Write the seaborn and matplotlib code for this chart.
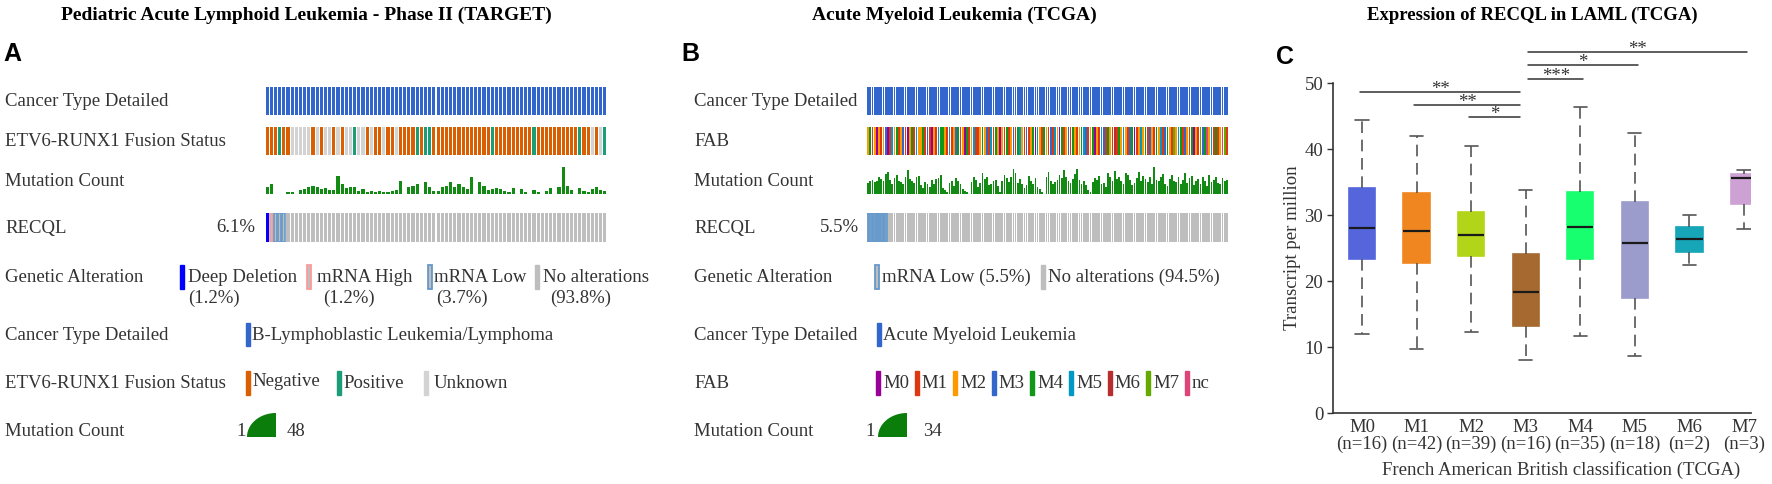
import numpy as np
import pandas as pd
import matplotlib
matplotlib.use("Agg")
import matplotlib.pyplot as plt
from matplotlib.patches import Rectangle, Polygon
import seaborn as sns

W, H = 1772, 484
nan = np.nan

# ---------------- Panel A: TARGET pediatric ALL oncoprint (82 samples) ----------------
fusion_A = list("NNNPNNUUUU" "UNUNUUNUNU" "UPUUNUNNUN" "NUNNNNPNPP" "NNNNNNNNNN"
                "NNNNPNNNNN" "NNNNPNNNNN" "NNNNNPNNUN" "UP")
mutation_A = [12, 17, nan, nan, nan, 3, 3, nan, 7, 9,
              12, 15, 13, 9, 11, 7, 8, 32, 18, 11,
              12, 13, 6, 9, 3, 6, 3, 5, 4, 3,
              6, 7, 24, nan, 12, 15, 17, nan, 21, 12,
              6, 5, 12, 15, 21, 13, 17, 12, 9, 30,
              nan, 21, 15, 7, 9, 11, 9, 5, 3, 11,
              nan, 9, 4, nan, 7, 3, nan, 6, 10, nan,
              12, 48, 14, 8, nan, 10, 6, 3, 9, 12,
              7, 5]
recql_A = ["DEL", "HIGH", "LOW", "LOW", "LOW"] + ["NONE"] * 77

# ---------------- Panel B: TCGA AML oncoprint (164 samples) ----------------
fab_B = list("2412021230" "1524123102" "4152241310" "2154421512" "3412041251"
             "1242315142" "0214123145" "2131240521" "4213152041" "2314212453"
             "1240215314" "2161425213" "4012524132" "1425134217" "2541321402"
             "1734n25141" "2n71")
mutation_B = [14, 16, 18, 15, 17, 22, 19, 16, 25, 28,
              18, 12, 20, 24, 17, 15, 13, 22, 30, 19,
              16, 14, 21, 23, 11, 7, 15, 12, 9, 18,
              13, 19, 20, 24, 8, 5, 3, 14, 17, 10,
              20, 16, 12, 6, 4, 2, nan, 15, 22, 18,
              9, 14, 27, 19, 21, 11, 13, 16, 18, 10,
              3, 17, 24, 20, 15, 22, 31, 26, 14, 19,
              12, 8, 11, 23, 16, 13, 20, 9, 6, 3,
              nan, 21, 28, 16, 12, 15, 18, 24, 20, 30,
              22, 17, 14, 19, 25, 32, 18, 13, 16, 11,
              5, 2, 15, 20, 18, 23, 12, 14, 9, 26,
              21, 17, 29, 19, 22, 16, 13, 27, 24, 18,
              11, 14, 20, 28, 17, 23, 19, 15, 21, 12,
              34, 18, 16, 22, 25, 13, 10, 19, 24, 17,
              15, 21, 12, 18, 26, 14, 20, 23, 11, 16,
              19, 13, 22, 17, 10, 24, 15, 18, 21, 14,
              12, 20, 16, 18]
recql_B = ["LOW"] * 9 + ["NONE"] * 155

# ---------------- Panel C: RECQL expression by FAB class ----------------
fab_groups = ["M0", "M1", "M2", "M3", "M4", "M5", "M6", "M7"]
n_counts = [16, 42, 39, 16, 35, 18, 2, 3]
whisker_lo = [11.9, 9.7, 12.2, 8.0, 11.6, 8.6, 22.4, 27.9]
q1 = [23.3, 22.8, 23.8, 13.2, 23.3, 17.4, 24.4, 31.7]
median = [28.0, 27.5, 27.0, 18.3, 28.2, 25.8, 26.3, 35.6]
q3 = [34.1, 33.3, 30.5, 24.1, 33.5, 31.9, 28.2, 36.2]
whisker_hi = [44.4, 41.9, 40.4, 33.8, 46.4, 42.4, 30.0, 36.8]
box_colors = ["#5566DD", "#F0861F", "#B2D419", "#A66A30",
              "#17FF6E", "#9B9BCC", "#17A6B8", "#CDA1D4"]

# significance brackets (group a vs group b)
bracket_a = [0, 1, 2, 3, 3, 3]
bracket_b = [3, 3, 3, 4, 5, 7]
bracket_y = [48.6, 46.7, 44.8, 50.6, 52.7, 54.7]
bracket_lbl = ["**", "**", "*", "***", "*", "**"]

# colours
CT_BLUE = "#3366CC"
FUSION_COL = {"N": "#D95F02", "P": "#1B9E77", "U": "#D3D3D3"}
FAB_COL = {"0": "#990099", "1": "#DC3912", "2": "#FF9900", "3": "#3366CC",
           "4": "#109618", "5": "#0099C6", "6": "#B82E2E", "7": "#66AA00",
           "n": "#DD4477"}
MUT_GREEN = "#138A13"
GREY = "#BEBEBE"
DEL_BLUE = "#0000FF"
HIGH_PINK = "#FF9999"
LOW_BLUE = "#6699CC"

sns.set_style("ticks")
serif = ["Liberation Serif", "DejaVu Serif"]
sans = ["Liberation Sans", "DejaVu Sans"]
plt.rcParams["font.family"] = serif
FS = 13.5
LBL = "#333333"

fig = plt.figure(figsize=(W / 100, H / 100), dpi=100)

# overlay axes in pixel coordinates for labels and legends
lay = fig.add_axes([0, 0, 1, 1])
lay.set_xlim(0, W)
lay.set_ylim(H, 0)
lay.axis("off")
lay.patch.set_alpha(0)


def put(x, y, s, **kw):
    kw.setdefault("fontsize", FS)
    kw.setdefault("va", "center")
    kw.setdefault("color", LBL)
    lay.text(x, y, s, **kw)


def swatch(x, y0, y1, face, edge=None, w=4, lw=1.0):
    lay.add_patch(Rectangle((x, y0), w, y1 - y0, facecolor=face,
                            edgecolor=edge or face, lw=lw))


def wedge(x0, x1, y0, y1):
    # quarter-ellipse legend glyph for the mutation count scale
    t = np.linspace(0, np.pi / 2, 40)
    pts = np.column_stack([x1 - (x1 - x0) * np.cos(t), y1 - (y1 - y0) * np.sin(t)])
    pts = np.vstack([pts, [x1, y1]])
    lay.add_patch(Polygon(pts, closed=True, facecolor="#0A7D0A", edgecolor="none"))


def track_axes(x0, x1, y0, y1, n):
    ax = fig.add_axes([x0 / W, 1 - y1 / H, (x1 - x0) / W, (y1 - y0) / H])
    ax.set_axis_off()
    ax.set_xlim(-0.5, n - 0.5)
    return ax


def draw_oncoprint(x0, x1, second_colors, mutation, recql, bw):
    n = len(recql)
    idx = np.arange(n)
    # cancer type track
    ax = track_axes(x0, x1, 87, 115, n)
    ax.bar(idx, 1, width=bw, color=CT_BLUE, linewidth=0)
    ax.set_ylim(0, 1)
    # second clinical track
    ax = track_axes(x0, x1, 127, 155, n)
    ax.bar(idx, 1, width=bw, color=second_colors, linewidth=0)
    ax.set_ylim(0, 1)
    # mutation count track
    ax = track_axes(x0, x1, 167, 194, n)
    mut = np.array(mutation, dtype=float)
    ok = ~np.isnan(mut)
    ax.bar(idx[ok], mut[ok], width=bw, color=MUT_GREEN, linewidth=0)
    ax.set_ylim(0, np.nanmax(mut))
    # RECQL genetic track
    ax = track_axes(x0, x1, 213, 242, n)
    rec = np.array(recql)
    ax.bar(idx, 1, width=bw, color=GREY, linewidth=0)
    ax.bar(idx[rec == "DEL"], 1, width=bw, color=DEL_BLUE, linewidth=0)
    ax.bar(idx[rec == "HIGH"], 1, width=bw, facecolor="none", edgecolor=HIGH_PINK, linewidth=1.2)
    ax.bar(idx[rec == "LOW"], 1, width=bw, facecolor="none", edgecolor=LOW_BLUE, linewidth=1.2)
    ax.set_ylim(0, 1)


# ---------------- Panel A ----------------
put(306, 15, "Pediatric Acute Lymphoid Leukemia - Phase II (TARGET)", ha="center",
    fontweight="bold", color="black", fontsize=14)
put(3, 54, "A", family=sans, fontweight="bold", fontsize=18, color="black")
for lbl, y in [("Cancer Type Detailed", 101), ("ETV6-RUNX1 Fusion Status", 141),
               ("Mutation Count", 181), ("RECQL", 228)]:
    put(5, y, lbl)
pct_A = 100 * sum(r != "NONE" for r in recql_A) / len(recql_A)
put(255, 228, f"{pct_A:.1f}%", ha="right")
draw_oncoprint(265, 607, [FUSION_COL[c] for c in fusion_A], mutation_A, recql_A, 0.75)

put(5, 277, "Genetic Alteration")
swatch(180, 265, 289, DEL_BLUE)
put(188, 277, "Deep Deletion")
put(188, 298, "(1.2%)")
swatch(307, 265, 289, GREY, HIGH_PINK, lw=1.3)
put(317, 277, "mRNA High")
put(323, 298, "(1.2%)")
swatch(428, 265, 289, GREY, LOW_BLUE, lw=1.3)
put(434, 277, "mRNA Low")
put(436, 298, "(3.7%)")
swatch(535, 265, 289, GREY)
put(543, 277, "No alterations")
put(550, 298, "(93.8%)")

put(5, 335, "Cancer Type Detailed")
swatch(246, 323, 346, CT_BLUE)
put(252, 335, "B-Lymphoblastic Leukemia/Lymphoma")

put(5, 383, "ETV6-RUNX1 Fusion Status")
swatch(246, 371, 395, FUSION_COL["N"])
put(252, 381, "Negative")
swatch(337, 371, 395, FUSION_COL["P"])
put(343, 383, "Positive")
swatch(424, 371, 395, FUSION_COL["U"])
put(434, 383, "Unknown")

put(5, 432, "Mutation Count")
put(246, 432, "1", ha="right")
wedge(247, 276, 413, 437)
put(287, 432, f"{int(np.nanmax(mutation_A))}")

# ---------------- Panel B ----------------
put(954, 15, "Acute Myeloid Leukemia (TCGA)", ha="center", fontweight="bold",
    color="black", fontsize=14)
put(681, 54, "B", family=sans, fontweight="bold", fontsize=18, color="black")
for lbl, y in [("Cancer Type Detailed", 101), ("FAB", 141),
               ("Mutation Count", 181), ("RECQL", 228)]:
    put(694, y, lbl)
pct_B = 100 * sum(r != "NONE" for r in recql_B) / len(recql_B)
put(859, 228, f"{pct_B:.1f}%", ha="right")
draw_oncoprint(867, 1228, [FAB_COL[c] for c in fab_B], mutation_B, recql_B, 0.8)

put(694, 277, "Genetic Alteration")
swatch(875, 265, 289, GREY, LOW_BLUE, lw=1.3)
put(882, 277, f"mRNA Low ({pct_B:.1f}%)")
swatch(1041, 265, 289, GREY)
put(1048, 277, f"No alterations ({100 - pct_B:.1f}%)")

put(694, 335, "Cancer Type Detailed")
swatch(877, 323, 346, CT_BLUE)
put(883, 335, "Acute Myeloid Leukemia")

put(694, 383, "FAB")
fab_legend = ["M0", "M1", "M2", "M3", "M4", "M5", "M6", "M7", "nc"]
for i, (code, name) in enumerate(zip("01234567n", fab_legend)):
    x = 876 + i * 38.6
    swatch(x, 371, 395, FAB_COL[code])
    put(x + 7, 383, name)

put(694, 432, "Mutation Count")
put(875, 432, "1", ha="right")
wedge(878, 907, 413, 437)
put(923, 432, f"{int(np.nanmax(mutation_B))}")

# ---------------- Panel C ----------------
axC = fig.add_axes([1333 / W, 71 / H, 418 / W, 330 / H])
df = pd.DataFrame({
    "group": np.repeat(fab_groups, 5),
    "tpm": np.column_stack([whisker_lo, q1, median, q3, whisker_hi]).ravel(),
})
sns.boxplot(data=df, x="group", y="tpm", hue="group", order=fab_groups,
            hue_order=fab_groups, palette=box_colors, legend=False, width=0.48,
            whis=(0, 100), showfliers=False, saturation=1, linewidth=1.2,
            medianprops=dict(color="#1a1a1a", linewidth=1.6),
            whiskerprops=dict(color="#555555", linestyle=(0, (7, 4)), linewidth=1.2),
            capprops=dict(color="#555555", linewidth=1.2), ax=axC)
for p in axC.patches:
    p.set_edgecolor(p.get_facecolor())

axC.set_xlim(-0.531, 7.128)
axC.set_ylim(0, 50)
axC.set_yticks(range(0, 51, 10))
axC.set_xticks(range(len(fab_groups)))
axC.set_xticklabels([f"{g}\n(n={n})" for g, n in zip(fab_groups, n_counts)],
                    linespacing=1.0)
axC.tick_params(axis="x", length=0, pad=4, labelsize=FS, colors="#333333")
axC.tick_params(axis="y", length=4, width=1, pad=3, labelsize=FS, colors="#333333")
sns.despine(ax=axC)
for s in ["left", "bottom"]:
    axC.spines[s].set_color("#333333")
    axC.spines[s].set_linewidth(1.2)
axC.set_xlabel("French American British classification (TCGA)", fontsize=FS, color="#333333")
axC.set_ylabel("Transcript per million", fontsize=FS, color="#333333")
axC.xaxis.set_label_coords(0.545, -0.145)
axC.yaxis.set_label_coords(-0.077, 0.5)

for a, b, y, lbl in zip(bracket_a, bracket_b, bracket_y, bracket_lbl):
    x0 = a + 0.05 if a == 3 else a - 0.04
    x1 = b - 0.1 if b == 3 else b + 0.05
    axC.plot([x0, x1], [y, y], color="#333333", lw=1.1, clip_on=False)
    axC.annotate(lbl, xy=((x0 + x1) / 2, y), xytext=(0, -1.5), textcoords="offset points",
                 ha="center", va="baseline", fontsize=FS, color="#333333",
                 annotation_clip=False)

put(1532, 15, "Expression of RECQL in LAML (TCGA)", ha="center", fontweight="bold",
    color="black")
put(1276, 57, "C", family=sans, fontweight="bold", fontsize=18, color="black")

fig.savefig("out.png", dpi=100)
